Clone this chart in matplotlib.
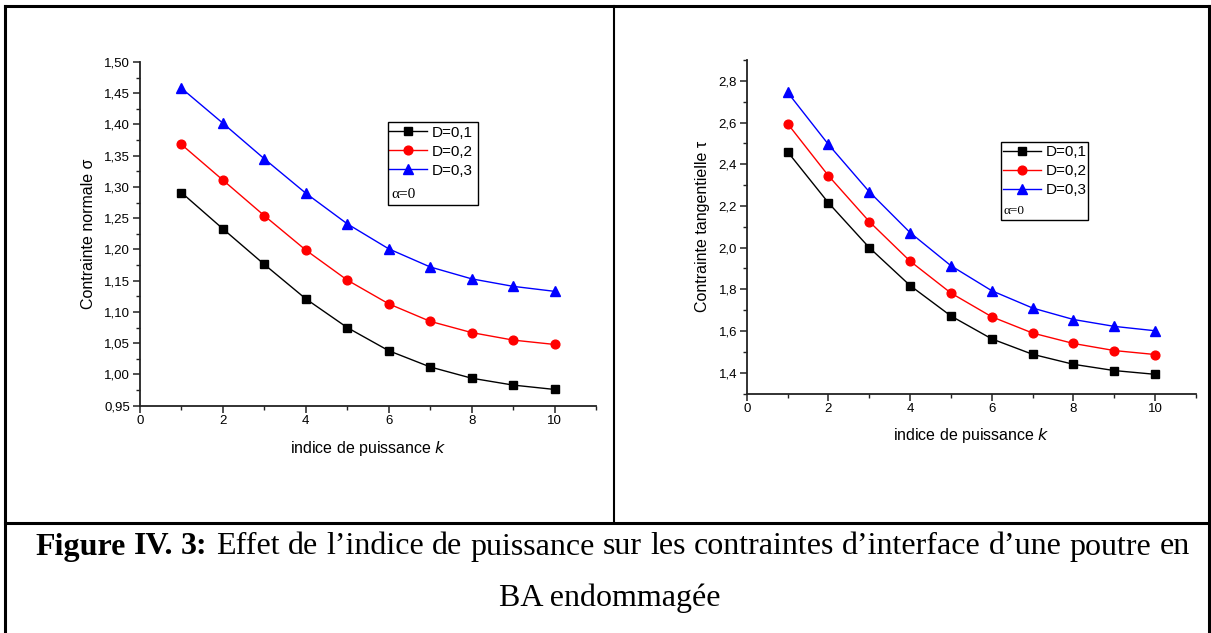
import matplotlib
matplotlib.use("Agg")
import matplotlib.pyplot as plt
from matplotlib.ticker import MultipleLocator, FuncFormatter
from matplotlib.lines import Line2D
from matplotlib.patches import Rectangle

k = [1, 2, 3, 4, 5, 6, 7, 8, 9, 10]
labels = ["D=0,1", "D=0,2", "D=0,3"]

sigma_d01 = [1.291, 1.233, 1.176, 1.121, 1.075, 1.038, 1.012, 0.994, 0.983, 0.976]
sigma_d02 = [1.368, 1.311, 1.254, 1.199, 1.151, 1.113, 1.085, 1.067, 1.055, 1.048]
sigma_d03 = [1.458, 1.402, 1.345, 1.290, 1.241, 1.201, 1.172, 1.153, 1.141, 1.133]

tau_d01 = [2.460, 2.215, 2.000, 1.818, 1.672, 1.562, 1.488, 1.440, 1.410, 1.392]
tau_d02 = [2.595, 2.345, 2.125, 1.935, 1.782, 1.668, 1.590, 1.540, 1.506, 1.487]
tau_d03 = [2.745, 2.495, 2.268, 2.072, 1.913, 1.793, 1.710, 1.655, 1.622, 1.601]

caption_bold = "Figure IV. 3:"
caption_line1 = "Effet de l\u2019indice de puissance sur les contraintes d\u2019interface d\u2019une poutre en"
caption_line2 = "BA endommagée"

colors = ["black", "red", "blue"]
markers = ["s", "o", "^"]
msizes = [5.8, 6.3, 7.0]

W, H = 1211, 633
fig = plt.figure(figsize=(W / 100, H / 100), dpi=100)
plt.rcParams['font.family'] = ['Liberation Sans', 'DejaVu Sans']


def fx(px):
    return px / W


def fy(py):
    return 1 - py / H


# frame lines (table borders)
border_kw = dict(color="black", lw=2.2, transform=fig.transFigure)
fig.add_artist(Line2D([fx(5), fx(1209)], [fy(6), fy(6)], **border_kw))
fig.add_artist(Line2D([fx(5), fx(5)], [fy(6), fy(633)], **border_kw))
fig.add_artist(Line2D([fx(1209), fx(1209)], [fy(6), fy(633)], **border_kw))
fig.add_artist(Line2D([fx(614), fx(614)], [fy(6), fy(523)], color="black", lw=1.5,
                      transform=fig.transFigure))
fig.add_artist(Line2D([fx(5), fx(1209)], [fy(523), fy(523)], **border_kw))


def comma(fmt):
    return FuncFormatter(lambda v, p: (fmt % v).replace(".", ","))


def style_axes(ax):
    for s in ["top", "right"]:
        ax.spines[s].set_visible(False)
    for s in ["left", "bottom"]:
        ax.spines[s].set_linewidth(1.3)
        ax.spines[s].set_color("#222222")
    ax.tick_params(which="major", direction="out", length=5, width=1.1, labelsize=9.5,
                   color="#222222", pad=2)
    ax.tick_params(which="minor", direction="out", length=3, width=1.0, color="#222222")
    ax.xaxis.set_major_locator(MultipleLocator(2))
    ax.xaxis.set_minor_locator(MultipleLocator(1))
    ax.set_xlim(0, 11)
    ax.xaxis.set_major_formatter(FuncFormatter(lambda v, p: "%d" % v if v <= 10 else ""))


def add_legend(ax, box, first_row_y, handle_x, alpha_xy, alpha_size):
    # box: (x0, y0, x1, y1) in pixels
    x0, y0, x1, y1 = box
    fig.add_artist(Rectangle((fx(x0), fy(y1)), fx(x1) - fx(x0), fy(y0) - fy(y1),
                             transform=fig.transFigure, fill=False, lw=1.0,
                             edgecolor="black"))
    fs = 11
    row_h = fs * 100 / 72 * 0.98
    leg = ax.legend(loc="upper left",
                    bbox_to_anchor=(fx(handle_x), fy(first_row_y - row_h / 2)),
                    bbox_transform=fig.transFigure,
                    fontsize=fs, frameon=False, handlelength=2.5, borderpad=0,
                    labelspacing=0.33, handletextpad=0.28, borderaxespad=0)
    fig.text(fx(alpha_xy[0]), fy(alpha_xy[1]), "α=0", fontsize=alpha_size,
             family=["Liberation Serif"], va="center", ha="left")
    return leg


# left axes
ax1 = fig.add_axes([fx(140), fy(405.7), fx(596) - fx(140), fy(62) - fy(405.7)])
style_axes(ax1)
ax1.set_ylim(0.95, 1.50)
ax1.yaxis.set_major_locator(MultipleLocator(0.05))
ax1.yaxis.set_minor_locator(MultipleLocator(0.025))
ax1.yaxis.set_major_formatter(comma("%.2f"))
for ys, c, m, ms, lab in zip([sigma_d01, sigma_d02, sigma_d03], colors, markers, msizes, labels):
    ax1.plot(k, ys, color=c, marker=m, markersize=ms, lw=1.0, label=lab)
ax1.set_xlabel("indice de puissance $\\mathit{k}$", fontsize=11.5, labelpad=8)
ax1.set_ylabel("Contrainte normale σ", fontsize=11.5, labelpad=6)
add_legend(ax1, (388, 122, 478, 205), 133, 389, (391, 194), 11)

# right axes
ax2 = fig.add_axes([fx(746.7), fy(393.5), fx(1196) - fx(746.7), fy(60) - fy(393.5)])
style_axes(ax2)
ax2.set_ylim(1.3, 2.9)
ax2.yaxis.set_major_locator(MultipleLocator(0.2))
ax2.yaxis.set_minor_locator(MultipleLocator(0.1))
ax2.yaxis.set_major_formatter(
    FuncFormatter(lambda v, p: ("%.1f" % v).replace(".", ",") if 1.35 < v < 2.85 else ""))
for ys, c, m, ms, lab in zip([tau_d01, tau_d02, tau_d03], colors, markers, msizes, labels):
    ax2.plot(k, ys, color=c, marker=m, markersize=ms, lw=1.0, label=lab)
ax2.set_xlabel("indice de puissance $\\mathit{k}$", fontsize=11.5, labelpad=8)
ax2.set_ylabel("Contrainte tangentielle τ", fontsize=11.5, labelpad=6)
add_legend(ax2, (1001, 142, 1088, 220), 152.7, 1003, (1004, 211.5), 9.5)

# caption (first line spread to the cell width, second line centred)
cap_font = ["Liberation Serif", "DejaVu Serif"]
cap_fs = 23
renderer = fig.canvas.get_renderer()
tokens = [(w, "bold") for w in caption_bold.split(" ")] + \
         [(w, "normal") for w in caption_line1.split(" ")]
texts = []
widths = []
for w, weight in tokens:
    t = fig.text(0, fy(547), w, fontsize=cap_fs, fontweight=weight, family=cap_font,
                 va="center", ha="left")
    texts.append(t)
    widths.append(t.get_window_extent(renderer).width)
left_px, right_px = 35, 1190
gap = (right_px - left_px - sum(widths)) / (len(tokens) - 1)
x = left_px
for t, wdt in zip(texts, widths):
    t.set_x(fx(x))
    x += wdt + gap
fig.text(fx(610), fy(598), caption_line2, fontsize=cap_fs, family=cap_font,
         ha="center", va="center")

fig.savefig("out.png", dpi=100)
